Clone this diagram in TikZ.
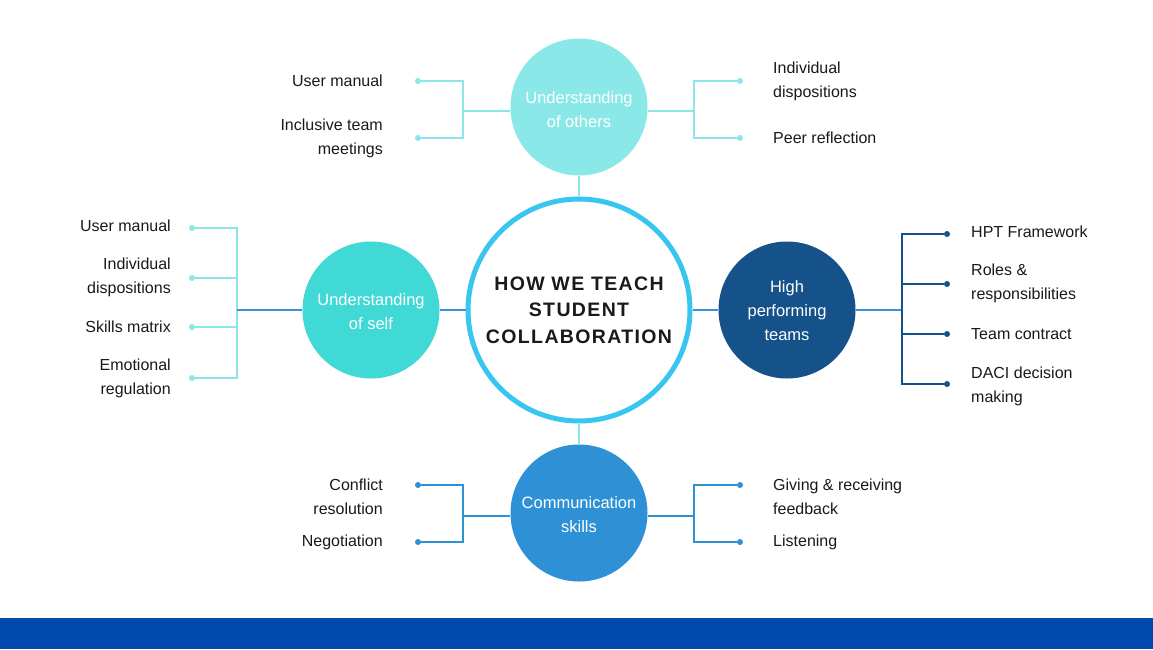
\documentclass[tikz,border=0pt]{standalone}
\usepackage{fontspec}
\setmainfont{Liberation Sans}
\newfontfamily\titlefont[LetterSpace=7]{Liberation Sans}
\definecolor{ring}{RGB}{56,198,240}
\definecolor{othersfill}{RGB}{138,232,232}
\definecolor{selffill}{RGB}{64,217,214}
\definecolor{hptfill}{RGB}{21,82,138}
\definecolor{commfill}{RGB}{47,145,213}
\definecolor{bar}{RGB}{0,74,173}
\definecolor{lightln}{RGB}{140,230,232}
\definecolor{blueln}{RGB}{58,145,215}
\definecolor{txt}{RGB}{26,26,26}
\begin{document}
\begin{tikzpicture}[x=1pt,y=-1pt,
 hub/.style={circle, minimum size=137pt, inner sep=0pt, text=white, font=\fontsize{16.5}{24}\selectfont, align=center},
 dotn/.style={circle, fill=#1, minimum size=6pt, inner sep=0pt},
 item/.style={font=\fontsize{16}{24}\selectfont, text=txt, align=#1, inner sep=0pt},
 ln/.style={draw=#1, line width=2.5pt}]
\useasboundingbox (0,0) rectangle (1153,649);
\fill[white] (0,0) rectangle (1153,649);
\fill[bar] (0,618) rectangle (1153,649);

% hubs
\node[circle, minimum size=222pt, inner sep=0pt, draw=ring, line width=5pt, fill=white, align=center,
  font=\titlefont\fontsize{19.5}{26.5}\selectfont\bfseries, text=txt] (c) at (579,310)
  {HOW WE TEACH\\STUDENT\\COLLABORATION};
\node[hub, fill=othersfill] (oth) at (579,107) {};
\node[hub, fill=selffill] (self) at (371,310) {};
\node[hub, fill=hptfill] (hpt) at (787,310) {};
\node[hub, fill=commfill] (com) at (579,513) {};
\node[hub, minimum size=0pt] (othl) at (579,110) {Understanding\\of others};
\node[hub, minimum size=0pt] (selfl) at (371,312) {Understanding\\of self};
\node[hub, minimum size=0pt] (hptl) at (787,311) {High\\performing\\teams};
\node[hub, minimum size=0pt] (coml) at (579,515) {Communication\\skills};

% hub connectors
\draw[ln=lightln] (oth.south) -- (c.north);
\draw[ln=lightln] (c.south) -- (com.north);
\draw[ln=blueln] (self.east) -- (c.west);
\draw[ln=blueln] (c.east) -- (hpt.west);

% --- top hub, left branch
\node[dotn=lightln] (ol1) at (418,81) {};
\node[dotn=lightln] (ol2) at (418,138) {};
\coordinate (olj) at (463,111);
\draw[ln=lightln] (oth.west |- olj) -- (olj);
\draw[ln=lightln] (ol1) -| (olj) |- (ol2);
\node[item=right, anchor=east] at (383,81) {User manual};
\node[item=right, anchor=east] at (383,138) {Inclusive team\\meetings};
% --- top hub, right branch
\node[dotn=lightln] (or1) at (740,81) {};
\node[dotn=lightln] (or2) at (740,138) {};
\coordinate (orj) at (694,111);
\draw[ln=lightln] (oth.east |- orj) -- (orj);
\draw[ln=lightln] (or1) -| (orj) |- (or2);
\node[item=left, anchor=west] at (773,81) {Individual\\dispositions};
\node[item=left, anchor=west] at (773,138) {Peer reflection};

% --- self hub
\node[dotn=lightln] (s1) at (192,228) {};
\node[dotn=lightln] (s2) at (192,278) {};
\node[dotn=lightln] (s3) at (192,327) {};
\node[dotn=lightln] (s4) at (192,378) {};
\coordinate (sj) at (237,310);
\draw[ln=lightln] (s1) -| (sj) |- (s4);
\draw[ln=lightln] (s2) -- (s2 -| sj);
\draw[ln=lightln] (s3) -- (s3 -| sj);
\draw[ln=blueln] (self.west) -- (sj);
\node[item=right, anchor=east] at (171,226) {User manual};
\node[item=right, anchor=east] at (171,277) {Individual\\dispositions};
\node[item=right, anchor=east] at (171,327) {Skills matrix};
\node[item=right, anchor=east] at (171,378) {Emotional\\regulation};

% --- hpt hub
\node[dotn=hptfill] (h1) at (947,234) {};
\node[dotn=hptfill] (h2) at (947,284) {};
\node[dotn=hptfill] (h3) at (947,334) {};
\node[dotn=hptfill] (h4) at (947,384) {};
\coordinate (hj) at (902,310);
\draw[ln=blueln] (hpt.east) -- (hj);
\draw[ln=hptfill] (h1) -| (hj) |- (h4);
\draw[ln=hptfill] (h2) -- (h2 -| hj);
\draw[ln=hptfill] (h3) -- (h3 -| hj);
\node[item=left, anchor=west] at (971,232) {HPT Framework};
\node[item=left, anchor=west] at (971,283.5) {Roles \&\\responsibilities};
\node[item=left, anchor=west] at (971,334) {Team contract};
\node[item=left, anchor=west] at (971,386) {DACI decision\\making};

% --- comm hub, left
\node[dotn=commfill] (cl1) at (418,485) {};
\node[dotn=commfill] (cl2) at (418,542) {};
\coordinate (clj) at (463,516);
\draw[ln=commfill] (com.west |- clj) -- (clj);
\draw[ln=commfill] (cl1) -| (clj) |- (cl2);
\node[item=right, anchor=north east] at (383,479) {Conflict\\resolution};
\node[item=right, anchor=east] at (383,542) {Negotiation};
% --- comm hub, right
\node[dotn=commfill] (cr1) at (740,485) {};
\node[dotn=commfill] (cr2) at (740,542) {};
\coordinate (crj) at (694,516);
\draw[ln=commfill] (com.east |- crj) -- (crj);
\draw[ln=commfill] (cr1) -| (crj) |- (cr2);
\node[item=left, anchor=north west] at (773,479) {Giving \& receiving\\feedback};
\node[item=left, anchor=west] at (773,542) {Listening};
\end{tikzpicture}
\end{document}
